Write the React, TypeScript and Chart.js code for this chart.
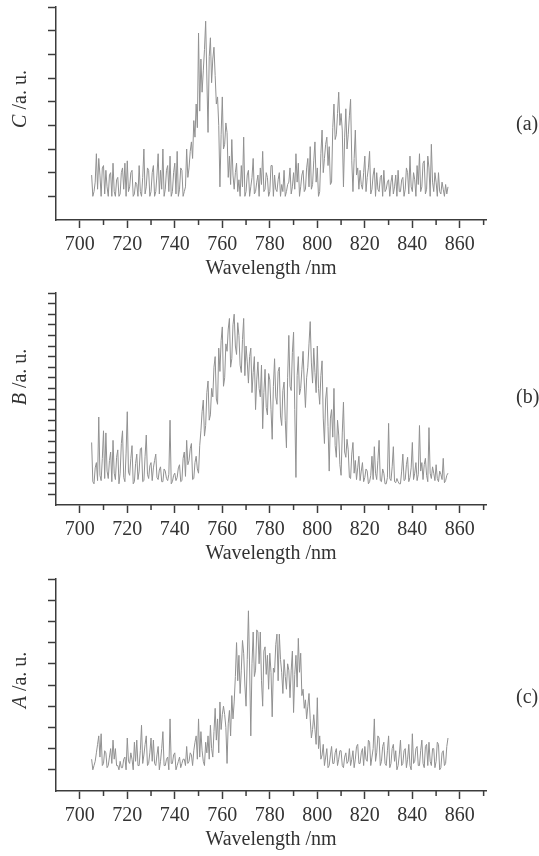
import React, { useEffect, useRef } from "react";
import { Chart, registerables } from "chart.js";

Chart.register(...registerables);

// ---------- data ----------
const WAVELENGTHS = [
  705, 705.5, 706, 706.5, 707, 707.5, 708, 708.5, 709, 709.5,
  710, 710.5, 711, 711.5, 712, 712.5, 713, 713.5, 714, 714.5,
  715, 715.5, 716, 716.5, 717, 717.5, 718, 718.5, 719, 719.5,
  720, 720.5, 721, 721.5, 722, 722.5, 723, 723.5, 724, 724.5,
  725, 725.5, 726, 726.5, 727, 727.5, 728, 728.5, 729, 729.5,
  730, 730.5, 731, 731.5, 732, 732.5, 733, 733.5, 734, 734.5,
  735, 735.5, 736, 736.5, 737, 737.5, 738, 738.5, 739, 739.5,
  740, 740.5, 741, 741.5, 742, 742.5, 743, 743.5, 744, 744.5,
  745, 745.5, 746, 746.5, 747, 747.5, 748, 748.5, 749, 749.5,
  750, 750.5, 751, 751.5, 752, 752.5, 753, 753.5, 754, 754.5,
  755, 755.5, 756, 756.5, 757, 757.5, 758, 758.5, 759, 759.5,
  760, 760.5, 761, 761.5, 762, 762.5, 763, 763.5, 764, 764.5,
  765, 765.5, 766, 766.5, 767, 767.5, 768, 768.5, 769, 769.5,
  770, 770.5, 771, 771.5, 772, 772.5, 773, 773.5, 774, 774.5,
  775, 775.5, 776, 776.5, 777, 777.5, 778, 778.5, 779, 779.5,
  780, 780.5, 781, 781.5, 782, 782.5, 783, 783.5, 784, 784.5,
  785, 785.5, 786, 786.5, 787, 787.5, 788, 788.5, 789, 789.5,
  790, 790.5, 791, 791.5, 792, 792.5, 793, 793.5, 794, 794.5,
  795, 795.5, 796, 796.5, 797, 797.5, 798, 798.5, 799, 799.5,
  800, 800.5, 801, 801.5, 802, 802.5, 803, 803.5, 804, 804.5,
  805, 805.5, 806, 806.5, 807, 807.5, 808, 808.5, 809, 809.5,
  810, 810.5, 811, 811.5, 812, 812.5, 813, 813.5, 814, 814.5,
  815, 815.5, 816, 816.5, 817, 817.5, 818, 818.5, 819, 819.5,
  820, 820.5, 821, 821.5, 822, 822.5, 823, 823.5, 824, 824.5,
  825, 825.5, 826, 826.5, 827, 827.5, 828, 828.5, 829, 829.5,
  830, 830.5, 831, 831.5, 832, 832.5, 833, 833.5, 834, 834.5,
  835, 835.5, 836, 836.5, 837, 837.5, 838, 838.5, 839, 839.5,
  840, 840.5, 841, 841.5, 842, 842.5, 843, 843.5, 844, 844.5,
  845, 845.5, 846, 846.5, 847, 847.5, 848, 848.5, 849, 849.5,
  850, 850.5, 851, 851.5, 852, 852.5, 853, 853.5, 854, 854.5,
  855,
];

// panel (a): C
const INTENSITY_C = [
  0.9, 0.0, 0.2, 0.6, 1.8, 0.3, 1.6, 0.9, 0.0, 1.2,
  1.3, 0.1, 1.1, 0.4, 0.0, 0.9, 1.0, 0.0, 1.4, 0.2,
  0.0, 0.7, 0.8, 0.0, 0.1, 1.0, 1.2, 0.3, 1.4, 0.0,
  1.5, 0.2, 0.4, 1.0, 1.1, 0.0, 0.1, 0.6, 0.5, 0.0,
  1.3, 0.2, 0.0, 0.8, 2.0, 0.1, 0.4, 1.2, 1.1, 0.0,
  0.2, 1.0, 1.3, 0.0, 0.2, 0.9, 1.8, 0.1, 1.1, 0.3,
  2.0, 0.0, 0.3, 1.1, 1.3, 0.2, 1.7, 0.0, 0.2, 1.0,
  1.4, 0.1, 1.9, 0.0, 0.3, 1.2, 1.1, 0.0, 0.2, 0.4,
  2.0, 0.8, 1.2, 1.9, 2.3, 1.6, 3.2, 2.5, 3.9, 2.9,
  6.9, 3.6, 5.8, 4.4, 5.3, 6.2, 7.4, 5.0, 2.7, 5.9,
  6.7, 4.8, 5.8, 6.3, 5.1, 3.9, 4.2, 3.0, 0.4, 2.6,
  4.2, 2.0, 2.2, 3.1, 2.7, 0.8, 1.7, 0.5, 2.4, 0.9,
  0.3, 1.0, 1.4, 0.2, 0.7, 0.0, 1.3, 0.4, 2.5, 0.0,
  0.2, 0.9, 1.1, 0.0, 0.4, 0.8, 1.6, 0.1, 0.2, 0.6,
  0.9, 0.0, 1.2, 0.5, 1.9, 0.2, 0.3, 1.0, 0.8, 0.0,
  0.2, 1.3, 1.3, 0.0, 0.9, 0.3, 0.2, 0.7, 1.0, 0.0,
  0.5, 0.2, 1.1, 0.0, 0.2, 0.5, 0.6, 1.2, 0.1, 0.4,
  1.0, 0.3, 1.8, 0.6, 1.4, 0.0, 0.4, 0.9, 1.1, 0.2,
  0.3, 1.2, 1.6, 0.4, 2.1, 0.3, 0.5, 1.5, 2.3, 0.6,
  1.2, 0.0, 0.2, 1.8, 2.8, 1.0, 1.6, 2.2, 2.5, 1.3,
  2.1, 0.5, 0.6, 2.9, 3.9, 2.4, 2.6, 3.5, 4.4, 3.0,
  3.5, 2.8, 0.4, 2.5, 3.7, 2.0, 2.6, 3.4, 4.1, 1.5,
  0.2, 1.6, 2.8, 0.9, 1.2, 0.3, 1.1, 0.5, 0.3, 1.0,
  1.7, 0.2, 0.8, 1.2, 1.9, 0.1, 0.3, 0.9, 1.2, 0.0,
  1.0, 0.3, 0.2, 0.8, 0.9, 0.0, 1.1, 0.2, 0.3, 0.6,
  0.7, 0.0, 0.6, 0.9, 0.1, 0.4, 0.9, 0.0, 1.1, 0.2,
  0.2, 0.7, 0.8, 0.0, 0.3, 1.2, 1.0, 0.1, 1.7, 0.4,
  0.2, 1.0, 0.7, 0.0, 1.3, 0.5, 1.8, 0.2, 0.4, 1.4,
  1.5, 0.1, 0.3, 1.7, 1.2, 0.0, 2.2, 0.6, 0.2, 1.0,
  0.6, 0.0, 1.0, 0.2, 0.1, 0.6, 0.3, 0.0, 0.5, 0.1,
  0.4,
];

// panel (b): B
const INTENSITY_B = [
  3.9, 0.2, 0.0, 1.5, 2.0, 0.3, 6.3, 0.8, 0.3, 2.4,
  5.0, 0.5, 4.8, 1.2, 0.5, 2.2, 3.0, 0.2, 4.1, 1.0,
  0.4, 2.5, 3.2, 0.0, 1.0, 3.8, 5.0, 0.6, 0.2, 2.9,
  6.8, 1.1, 0.8, 2.4, 3.6, 0.0, 0.2, 1.9, 2.8, 0.4,
  1.2, 3.3, 3.4, 0.2, 0.3, 2.6, 4.6, 0.9, 0.5, 1.7,
  2.0, 0.3, 1.5, 2.2, 2.8, 0.6, 0.4, 1.3, 1.6, 0.2,
  0.2, 1.4, 1.2, 0.5, 0.3, 0.9, 6.0, 0.0, 0.2, 0.8,
  1.0, 0.3, 0.6, 1.5, 1.8, 0.2, 0.3, 2.4, 3.0, 0.7,
  4.1, 1.8, 2.2, 3.3, 3.8, 0.4, 0.5, 2.0, 2.6, 1.4,
  1.0, 3.6, 5.0, 6.8, 7.9, 4.5, 5.5, 8.6, 9.7, 6.0,
  6.5, 9.0, 8.2, 11.0, 12.0, 8.0, 7.5, 12.8, 10.6, 13.5,
  14.8, 9.2, 10.0, 13.2, 12.5, 14.6, 15.6, 11.0, 11.8, 15.0,
  16.0, 13.0, 12.2, 15.2, 14.0, 11.2, 10.5, 13.6, 15.6, 10.2,
  13.0, 11.5, 9.5, 12.0, 12.8, 8.6, 10.5, 12.0, 7.0, 9.8,
  11.5, 9.0, 8.2, 11.2, 5.2, 8.6, 10.8, 7.2, 6.5, 10.4,
  9.8, 7.0, 4.2, 9.2, 11.8, 8.2, 7.5, 10.6, 11.0, 6.4,
  5.5, 8.8, 9.6, 6.0, 3.4, 10.0, 14.0, 9.2, 8.8, 12.4,
  14.3, 7.0, 0.6, 10.2, 12.0, 8.4, 9.0, 10.8, 12.5, 9.6,
  7.2, 10.0, 11.0, 13.2, 15.3, 11.4, 9.5, 12.8, 10.5, 8.6,
  13.0, 9.0, 7.5, 10.2, 11.6, 6.2, 3.8, 8.0, 9.1, 5.4,
  1.2, 6.2, 7.0, 4.4, 9.0, 3.6, 2.5, 6.0, 4.6, 1.8,
  0.8, 4.8, 7.7, 3.0, 2.5, 4.2, 3.2, 0.6, 0.5, 2.8,
  3.9, 1.0, 2.2, 0.4, 1.5, 2.6, 0.3, 1.2, 2.0, 0.2,
  0.6, 1.4, 1.2, 0.0, 0.2, 0.8, 2.6, 0.4, 3.5, 1.0,
  0.4, 2.2, 4.1, 0.3, 0.2, 1.4, 1.0, 0.0, 0.0, 0.6,
  5.7, 0.5, 0.3, 1.6, 3.5, 0.2, 0.1, 0.5, 0.2, 0.0,
  0.0, 1.2, 2.8, 0.3, 0.4, 1.8, 2.5, 0.2, 0.6, 1.5,
  3.9, 0.4, 1.0, 2.0, 0.3, 0.9, 5.5, 1.2, 2.0, 0.4,
  1.8, 2.4, 0.8, 0.2, 5.3, 1.0, 0.5, 1.6, 1.0, 0.3,
  1.8, 0.5, 0.2, 1.2, 0.9, 0.4, 2.4, 0.1, 0.3, 0.8,
  1.0,
];

// panel (c): A
const INTENSITY_A = [
  0.5, 0.0, 0.2, 0.4, 0.8, 1.2, 1.6, 0.6, 1.7, 0.2,
  0.3, 0.9, 0.8, 0.1, 0.2, 0.6, 1.0, 0.3, 1.4, 0.5,
  1.0, 0.2, 0.2, 0.0, 0.4, 0.1, 0.1, 0.5, 0.6, 0.0,
  1.5, 0.4, 0.3, 0.8, 0.5, 0.0, 1.3, 0.4, 1.4, 0.2,
  0.2, 0.9, 2.1, 0.3, 0.7, 1.2, 1.6, 0.2, 0.3, 0.8,
  1.5, 0.4, 1.4, 0.3, 0.2, 0.7, 1.1, 0.0, 0.4, 1.0,
  1.8, 0.2, 0.2, 0.5, 0.6, 0.0, 2.4, 0.3, 0.3, 0.7,
  0.8, 0.0, 0.2, 0.4, 0.6, 0.1, 0.3, 0.5, 0.5, 0.2,
  1.1, 0.3, 0.4, 0.8, 0.7, 0.2, 0.9, 1.3, 1.6, 0.5,
  2.4, 0.6, 1.8, 0.9, 0.4, 0.2, 1.3, 0.8, 1.6, 0.5,
  2.1, 1.0, 0.6, 1.8, 2.9, 1.4, 2.4, 0.8, 3.2, 1.9,
  2.6, 3.0, 2.6, 2.0, 0.3, 2.2, 2.8, 1.6, 3.5, 2.4,
  3.2, 4.4, 6.0, 4.2, 5.4, 3.6, 4.7, 6.1, 5.5, 4.0,
  3.0, 5.2, 7.5, 4.8, 1.6, 5.0, 6.5, 4.4, 4.7, 6.6,
  6.5, 5.0, 6.5, 4.2, 3.0, 5.6, 5.8, 4.5, 5.4, 3.8,
  5.5, 4.6, 2.5, 4.8, 4.6, 5.9, 6.4, 4.2, 6.4, 5.2,
  4.6, 3.6, 5.2, 4.4, 3.8, 5.0, 4.7, 3.4, 4.7, 5.6,
  2.7, 4.5, 5.4, 3.9, 6.2, 4.6, 5.5, 3.5, 3.8, 2.9,
  3.3, 2.4, 3.0, 3.6, 2.4, 1.5, 1.9, 2.6, 1.9, 1.2,
  3.4, 1.0, 1.6, 0.5, 0.7, 1.2, 0.2, 0.6, 1.0, 0.1,
  0.2, 0.7, 1.1, 0.3, 0.3, 0.8, 1.0, 0.2, 0.5, 0.9,
  0.9, 0.2, 0.1, 0.6, 0.8, 0.3, 0.4, 1.0, 0.2, 0.5,
  0.9, 0.1, 0.5, 1.1, 1.2, 0.3, 0.3, 0.8, 1.0, 0.2,
  1.1, 0.5, 0.4, 1.4, 1.3, 0.2, 0.6, 1.0, 2.4, 0.4,
  0.8, 1.6, 1.5, 0.2, 0.4, 1.1, 1.3, 0.3, 0.2, 0.9,
  1.6, 0.1, 0.3, 1.0, 1.2, 0.4, 0.9, 0.0, 0.2, 0.7,
  1.4, 0.2, 0.3, 0.9, 1.0, 0.1, 0.5, 1.2, 0.2, 0.0,
  1.7, 0.3, 0.4, 1.0, 1.1, 0.2, 0.2, 0.9, 1.4, 0.3,
  0.1, 1.1, 1.2, 0.2, 1.3, 0.4, 0.2, 1.0, 1.0, 0.1,
  0.4, 1.3, 1.2, 0.0, 0.1, 0.8, 0.9, 0.2, 0.3, 1.1,
  1.5,
];

const X_MAJOR_TICKS = [700, 720, 740, 760, 780, 800, 820, 840, 860];
const X_MINOR_TICKS = [710, 730, 750, 770, 790, 810, 830, 850, 870];
const X_MIN = 690;
const X_MAX = 871;
const X_TITLE = "Wavelength /nm";
const Y_UNIT = " /a. u.";

const PANELS = [
  { tag: "(a)", letter: "C", values: INTENSITY_C, yMin: -1, yMax: 8 },
  { tag: "(b)", letter: "B", values: INTENSITY_B, yMin: -2, yMax: 18 },
  { tag: "(c)", letter: "A", values: INTENSITY_A, yMin: -1, yMax: 9 },
];

// ---------- layout / style ----------
const PANEL_LAYOUT = [
  { top: 0, height: 283, yTitleY: 99, tagY: 125 },
  { top: 286, height: 282, yTitleY: 91, tagY: 112 },
  { top: 572, height: 282, yTitleY: 108, tagY: 126 },
];
const WIDTH = 539;
const FONT_FAMILY = '"Liberation Serif", "Times New Roman", serif';
const TEXT_COLOR = "#333333";
const AXIS_COLOR = "#3c3c3c";
const LINE_COLOR = "rgb(145,145,145)";

type PanelDef = (typeof PANELS)[number];
type LayoutDef = (typeof PANEL_LAYOUT)[number];

function SpectrumPanel({ panel, layout }: { panel: PanelDef; layout: LayoutDef }) {
  const ref = useRef<HTMLCanvasElement | null>(null);

  useEffect(() => {
    const canvas = ref.current;
    if (!canvas) return;

    const overlay = {
      id: "panelOverlay",
      afterDraw(chart: any) {
        const { ctx } = chart;
        const xs = chart.scales.x;
        ctx.save();
        ctx.strokeStyle = AXIS_COLOR;
        ctx.lineWidth = 1.5;
        for (const v of X_MINOR_TICKS) {
          const px = xs.getPixelForValue(v);
          ctx.beginPath();
          ctx.moveTo(px, xs.top);
          ctx.lineTo(px, xs.top + 5);
          ctx.stroke();
        }
        ctx.restore();

        // y title with italic variable letter
        ctx.save();
        const italic = `italic 20px ${FONT_FAMILY}`;
        const normal = `20px ${FONT_FAMILY}`;
        ctx.font = italic;
        const w1 = ctx.measureText(panel.letter).width;
        ctx.font = normal;
        const w2 = ctx.measureText(Y_UNIT).width;
        ctx.translate(21, layout.yTitleY);
        ctx.rotate(-Math.PI / 2);
        ctx.fillStyle = TEXT_COLOR;
        ctx.textBaseline = "middle";
        ctx.textAlign = "left";
        const start = -(w1 + w2) / 2;
        ctx.font = italic;
        ctx.fillText(panel.letter, start, 0);
        ctx.font = normal;
        ctx.fillText(Y_UNIT, start + w1, 0);
        ctx.restore();

        // panel tag
        ctx.save();
        ctx.font = normal;
        ctx.fillStyle = TEXT_COLOR;
        ctx.textAlign = "left";
        ctx.textBaseline = "middle";
        ctx.fillText(panel.tag, 516, layout.tagY);
        ctx.restore();
      },
    };

    const chart = new Chart(canvas, {
      type: "line",
      data: {
        datasets: [
          {
            data: WAVELENGTHS.map((x, i) => ({ x, y: panel.values[i] })),
            borderColor: LINE_COLOR,
            borderWidth: 1,
            pointRadius: 0,
            tension: 0,
            fill: false,
          },
        ],
      },
      options: {
        responsive: false,
        maintainAspectRatio: false,
        animation: false,
        layout: { padding: { top: 7, right: 53, left: 0, bottom: 0 } },
        plugins: { legend: { display: false }, tooltip: { enabled: false } },
        scales: {
          x: {
            type: "linear",
            min: X_MIN,
            max: X_MAX,
            afterFit: (s: any) => {
              s.height = 63;
            },
            ticks: {
              stepSize: 10,
              includeBounds: false,
              autoSkip: false,
              maxRotation: 0,
              minRotation: 0,
              padding: 5,
              color: TEXT_COLOR,
              font: { family: FONT_FAMILY, size: 20 },
              callback: (v: any) => (X_MAJOR_TICKS.includes(Number(v)) ? String(v) : ""),
            },
            grid: {
              drawOnChartArea: false,
              drawTicks: true,
              tickLength: 8,
              tickWidth: 1.5,
              tickColor: (ctx: any) =>
                ctx.tick && X_MAJOR_TICKS.includes(ctx.tick.value) ? AXIS_COLOR : "rgba(0,0,0,0)",
            },
            border: { display: true, color: AXIS_COLOR, width: 1.5 },
            title: {
              display: true,
              text: X_TITLE,
              color: TEXT_COLOR,
              font: { family: FONT_FAMILY, size: 20 },
              padding: { top: 0, bottom: 2 },
            },
          },
          y: {
            type: "linear",
            min: panel.yMin,
            max: panel.yMax,
            afterFit: (s: any) => {
              s.width = 56;
            },
            afterBuildTicks: (s: any) => {
              s.ticks = s.ticks.filter((t: any) => t.value > s.min);
            },
            ticks: { display: false, stepSize: 1, maxTicksLimit: 100 },
            grid: {
              drawOnChartArea: false,
              drawTicks: true,
              tickLength: 8,
              tickWidth: 1.5,
              tickColor: AXIS_COLOR,
            },
            border: { display: true, color: AXIS_COLOR, width: 1.5 },
          },
        },
      },
      plugins: [overlay],
    } as any);

    return () => chart.destroy();
  }, [panel, layout]);

  return (
    <canvas
      ref={ref}
      width={WIDTH}
      height={layout.height}
      style={{
        position: "absolute",
        left: 0,
        top: layout.top,
        width: WIDTH,
        height: layout.height,
      }}
    />
  );
}

export default function App() {
  return (
    <div
      style={{
        position: "absolute",
        left: 0,
        top: 0,
        width: WIDTH,
        height: 856,
        background: "#ffffff",
        overflow: "hidden",
      }}
    >
      {PANELS.map((p, i) => (
        <SpectrumPanel key={p.tag} panel={p} layout={PANEL_LAYOUT[i]} />
      ))}
    </div>
  );
}
